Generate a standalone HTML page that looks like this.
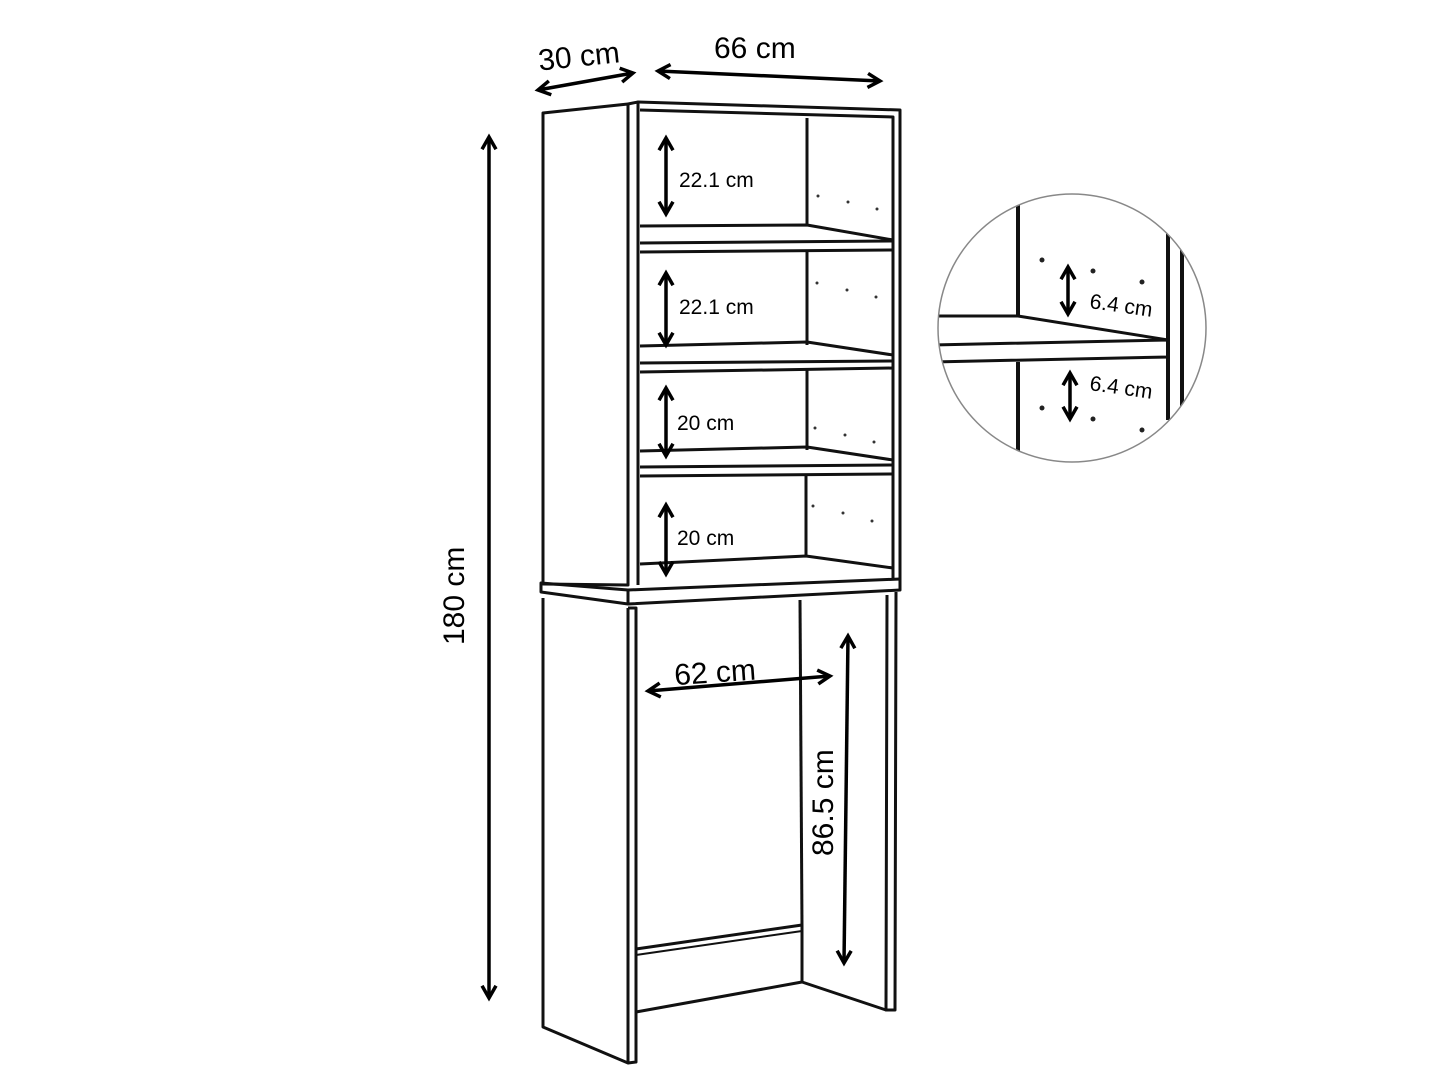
<!DOCTYPE html>
<html><head><meta charset="utf-8"><style>html,body{margin:0;padding:0;background:#fff}svg{display:block}</style></head>
<body>
<svg width="1440" height="1080" viewBox="0 0 1440 1080" xmlns="http://www.w3.org/2000/svg">
<defs>
<marker id="a" viewBox="0 0 10 10" refX="8" refY="5" markerWidth="5" markerHeight="5" orient="auto-start-reverse"><path d="M1 1 L8 5 L1 9" fill="none" stroke="#000" stroke-width="2"/></marker>
<clipPath id="c"><circle cx="1072" cy="328" r="134"/></clipPath>
</defs>
<g fill="none" stroke="#111" stroke-width="3" stroke-linejoin="round">
<!-- left side panel upper -->
<path d="M543 113 L628 104 L628 585 L543 584 Z"/>
<!-- front stile upper -->
<path d="M628 104 L638 102 L638 585"/>
<path d="M638 102 L900 110 L900 580"/>
<path d="M640 110 L893 117 L893 580"/>
<path d="M807 118 L807 225"/>
<!-- shelves -->
<path d="M640 226 L807 225 L893 240"/><path d="M640 243 L893 241"/><path d="M640 252 L893 250"/>
<path d="M807 250 L807 345"/>
<path d="M640 346 L807 342 L893 355"/><path d="M640 363 L893 361"/><path d="M640 372 L893 368"/>
<path d="M807 368 L807 450"/>
<path d="M640 451 L807 447 L893 460"/><path d="M640 467 L893 465"/><path d="M640 476 L893 474"/>
<path d="M806 474 L806 557"/>
<path d="M640 564 L806 556 L893 568"/>
<!-- base plank -->
<path d="M541 583 L628 590 L900 579 L900 590 L628 604 L541 592 Z"/>
<path d="M628 590 L628 604"/>
<!-- lower -->
<path d="M543 598 L543 1027 L628 1063 L628 608"/>
<path d="M628 608 L636 608 L636 1062 L628 1063"/>
<path d="M800 600 L802 927"/>
<path d="M887 595 L886 1010 L895 1010 L896 592"/>
<path d="M636 949 L802 925 L802 982 L636 1012"/>
<path d="M636 955 L802 931" stroke-width="2"/>
<path d="M802 982 L886 1010"/>
</g>
<g fill="#333">
<circle cx="818" cy="196" r="1.5"/><circle cx="848" cy="202" r="1.5"/><circle cx="877" cy="209" r="1.5"/>
<circle cx="817" cy="283" r="1.5"/><circle cx="847" cy="290" r="1.5"/><circle cx="876" cy="297" r="1.5"/>
<circle cx="815" cy="428" r="1.5"/><circle cx="845" cy="435" r="1.5"/><circle cx="874" cy="442" r="1.5"/>
<circle cx="813" cy="506" r="1.5"/><circle cx="843" cy="513" r="1.5"/><circle cx="872" cy="521" r="1.5"/>
</g>
<!-- dimension arrows -->
<g stroke="#000" stroke-width="3.5" fill="none" marker-start="url(#a)" marker-end="url(#a)">
<line x1="538" y1="90" x2="633" y2="73"/>
<line x1="658" y1="71" x2="880" y2="81"/>
<line x1="489" y1="137" x2="489" y2="998"/>
<line x1="666" y1="138" x2="666" y2="214"/>
<line x1="666" y1="273" x2="666" y2="345"/>
<line x1="666" y1="388" x2="666" y2="456"/>
<line x1="666" y1="505" x2="666" y2="574"/>
<line x1="648" y1="691" x2="830" y2="676"/>
<line x1="848" y1="636" x2="844" y2="963"/>
</g>
<g font-family="Liberation Sans, sans-serif" fill="#000">
<text x="538" y="66" font-size="30" transform="rotate(-6 583 55)">30 cm</text>
<text x="714" y="58" font-size="30">66 cm</text>
<text x="464" y="645" font-size="30" transform="rotate(-90 464 645)">180 cm</text>
<text x="679" y="187" font-size="21">22.1 cm</text>
<text x="679" y="314" font-size="21">22.1 cm</text>
<text x="677" y="430" font-size="21">20 cm</text>
<text x="677" y="545" font-size="21">20 cm</text>
<text x="674" y="682" font-size="30" transform="rotate(-4 720 670)">62 cm</text>
<text x="833" y="856" font-size="30" transform="rotate(-90 833 856)">86.5 cm</text>
</g>
<!-- detail circle -->
<g clip-path="url(#c)" stroke="#111" fill="none">
<path d="M1018 190 L1018 316 M1018 362 L1018 470" stroke-width="4"/>
<path d="M1168 230 L1168 420 M1182 250 L1182 410" stroke-width="4"/>
<path d="M930 316 L1018 316 L1168 340" stroke-width="3"/>
<path d="M930 345 L1168 340 L1168 357 L930 362" stroke-width="3"/>
</g>
<g fill="#222">
<circle cx="1042" cy="260" r="2.5"/><circle cx="1093" cy="271" r="2.5"/><circle cx="1142" cy="282" r="2.5"/>
<circle cx="1042" cy="408" r="2.5"/><circle cx="1093" cy="419" r="2.5"/><circle cx="1142" cy="430" r="2.5"/>
</g>
<circle cx="1072" cy="328" r="134" fill="none" stroke="#888" stroke-width="1.5"/>
<g stroke="#000" stroke-width="3.5" fill="none" marker-start="url(#a)" marker-end="url(#a)">
<line x1="1068" y1="267" x2="1068" y2="314"/>
<line x1="1070" y1="373" x2="1070" y2="419"/>
</g>
<g font-family="Liberation Sans, sans-serif" fill="#000" font-size="21">
<text x="1089" y="308" transform="rotate(8 1089 308)">6.4 cm</text>
<text x="1089" y="390" transform="rotate(8 1089 390)">6.4 cm</text>
</g>
</svg>
</body></html>
